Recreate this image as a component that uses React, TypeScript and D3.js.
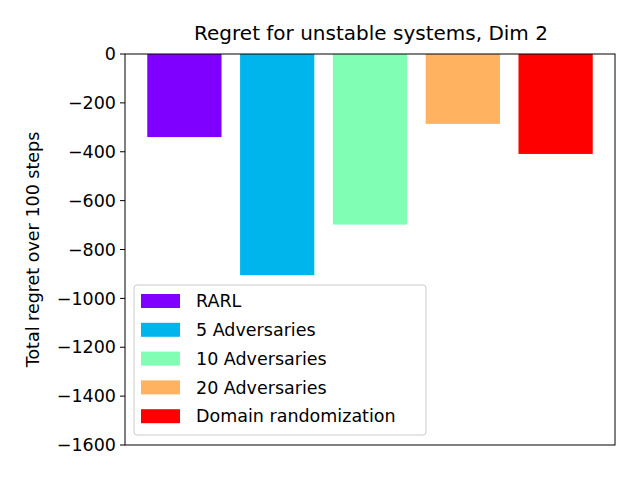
import React from 'react';
import * as d3 from 'd3';

const categories = ['RARL', '5 Adversaries', '10 Adversaries', '20 Adversaries', 'Domain randomization'];
const values = [-340, -905, -698, -286, -409];
const colors = ['#8000ff', '#00b5eb', '#80ffb4', '#ffb360', '#ff0000'];
const yTicks = [0, -200, -400, -600, -800, -1000, -1200, -1400, -1600];

export default function App() {
  const W = 640, H = 480;
  const m = { left: 125, right: 615, top: 54, bottom: 445 };
  const x = d3.scaleLinear().domain([-0.64, 4.64]).range([m.left, m.right]);
  const y = d3.scaleLinear().domain([0, -1600]).range([m.top, m.bottom]);
  const bw = x(0.8) - x(0);
  const font = 'DejaVu Sans, sans-serif';
  const fmt = (v: number) => (v < 0 ? '\u2212' + Math.abs(v) : String(v));
  return (
    <svg width={W} height={H} style={{ position: 'absolute', left: 0, top: 0 }} fontFamily={font}>
      <rect width={W} height={H} fill="#fff" />
      {values.map((v, i) => (
        <rect key={i} x={x(i) - bw / 2} y={y(0)} width={bw} height={y(v) - y(0)} fill={colors[i]} />
      ))}
      <rect x={m.left} y={m.top} width={m.right - m.left} height={m.bottom - m.top} fill="none" stroke="#000" strokeWidth={1} />
      {yTicks.map(t => (
        <g key={t}>
          <line x1={m.left - 5} x2={m.left} y1={y(t)} y2={y(t)} stroke="#000" />
          <text x={m.left - 9} y={y(t)} dy="0.35em" textAnchor="end" fontSize={17.5}>{fmt(t)}</text>
        </g>
      ))}
      <text x={(m.left + m.right) / 2 + 1} y={40} textAnchor="middle" fontSize={20}>Regret for unstable systems, Dim 2</text>
      <text transform={`translate(39,${(m.top + m.bottom) / 2}) rotate(-90)`} textAnchor="middle" fontSize={17.5}>Total regret over 100 steps</text>
      <g>
        <rect x={134} y={285} width={292} height={150} rx={3} fill="#fff" fillOpacity={0.8} stroke="#ccc" />
        {categories.map((c, i) => (
          <g key={c} transform={`translate(0,${301 + i * 28.8})`}>
            <rect x={141} y={-7} width={39} height={14} fill={colors[i]} />
            <text x={196} y={0} dy="0.35em" fontSize={17.5}>{c}</text>
          </g>
        ))}
      </g>
    </svg>
  );
}
